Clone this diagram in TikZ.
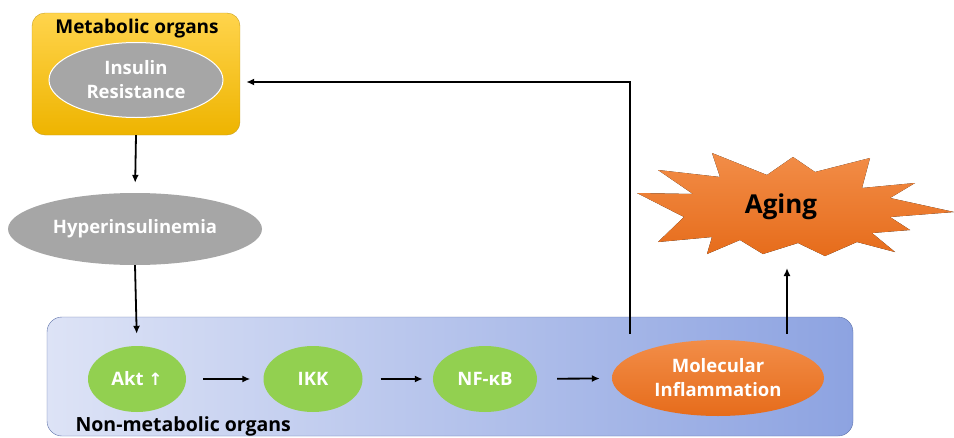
\documentclass[tikz,border=0pt]{standalone}
\usepackage{fontspec}
\setmainfont{Open Sans}
\newfontfamily\arrowfont{DejaVu Sans}
\usetikzlibrary{shapes.geometric,arrows.meta}

\definecolor{goldtop}{HTML}{FFD44C}
\definecolor{goldbot}{HTML}{EEB400}
\definecolor{goldline}{HTML}{C89F1E}
\definecolor{bluel}{HTML}{DDE3F6}
\definecolor{bluer}{HTML}{8DA3E1}
\definecolor{blueline}{HTML}{5C70A8}
\definecolor{leaf}{HTML}{92D050}
\definecolor{ashgray}{HTML}{A6A6A6}
\definecolor{orgtop}{HTML}{F28D48}
\definecolor{orgbot}{HTML}{E66C1B}

\tikzset{
  blob/.style={ellipse, inner sep=0pt, text=white, font=\bfseries\fontsize{18.5}{24}\selectfont, align=center},
  grayblob/.style={blob, fill=ashgray},
  greenblob/.style={blob, fill=leaf, minimum height=66pt},
  arr/.style={-{Latex[length=8pt,width=7pt]}, line width=1.8pt},
  hop/.style={arr, shorten <=17pt, shorten >=13pt}
}

\begin{document}
\begin{tikzpicture}[x=1pt, y=-1pt]
  \useasboundingbox (0,0) rectangle (954,437);

  % metabolic organs (top left)
  \node[draw=goldline, rounded corners=13pt, top color=goldtop, bottom color=goldbot,
        minimum width=208pt, minimum height=122pt] (meta) at (136,74) {};
  \node[font=\bfseries\fontsize{19}{22}\selectfont] (metatitle) at (137,29) {Metabolic organs};
  \node[grayblob, draw=white, line width=1pt, minimum width=174pt, minimum height=75pt] (ir) at (136,80)
       {Insulin\\Resistance};

  \node[grayblob, minimum width=254pt, minimum height=72pt] (hyper) at (135,229) {Hyperinsulinemia};

  % non-metabolic organs (bottom)
  \node[draw=blueline, rounded corners=15pt, left color=bluel, right color=bluer,
        minimum width=806pt, minimum height=119pt] (nonmeta) at (450,376.5) {};
  \node[font=\bfseries\fontsize{19.5}{22}\selectfont, anchor=west] (nonmetatitle) at (72,426) {Non-metabolic organs};

  \node[greenblob, minimum width=98pt]  (akt)  at (137,379) {Akt {\arrowfont\fontsize{17}{20}\selectfont ↑}};
  \node[greenblob, minimum width=99pt]  (ikk)  at (313,379) {IKK};
  \node[greenblob, minimum width=104pt] (nfkb) at (485,379) {NF-κB};
  \node[blob, top color=orgtop, bottom color=orgbot, minimum width=212pt, minimum height=76pt] (mi) at (718,378)
       {Molecular\\Inflammation};

  % aging burst
  \fill[top color=orgtop, bottom color=orgbot]
    (637,193) -- (693,194) -- (658,170) -- (720,177) -- (712,153) -- (767,175) -- (793,157)
    -- (815,172) -- (870,158) -- (862,188) -- (915,183) -- (890,198) -- (954,212) -- (890,217)
    -- (910,230) -- (872,233) -- (895,252) -- (857,242) -- (825,256) -- (798,243) -- (763,254)
    -- (740,240) -- (707,254) -- (712,237) -- (658,242) -- (684,217) -- cycle;
  \node[font=\bfseries\fontsize{26}{30}\selectfont] (aging) at (781,207) {Aging};
  \coordinate (agingfoot) at (787,268);

  \draw[arr, shorten >=10pt] (meta.south) -- (hyper.north);
  \draw[arr, shorten >=12pt] (hyper.south) -- (akt.north);
  \draw[hop] (akt) -- (ikk);
  \draw[hop, shorten <=18pt, shorten >=10pt] (ikk) -- (nfkb);
  \draw[hop, shorten <=20pt, shorten >=12pt] (nfkb) -- (mi);
  \draw[arr] ([xshift=-88pt,yshift=6pt]mi.north) |- ([xshift=6pt,yshift=-8pt]meta.east);
  \draw[arr] ([xshift=69pt,yshift=6pt]mi.north) -- (agingfoot);
\end{tikzpicture}
\end{document}
